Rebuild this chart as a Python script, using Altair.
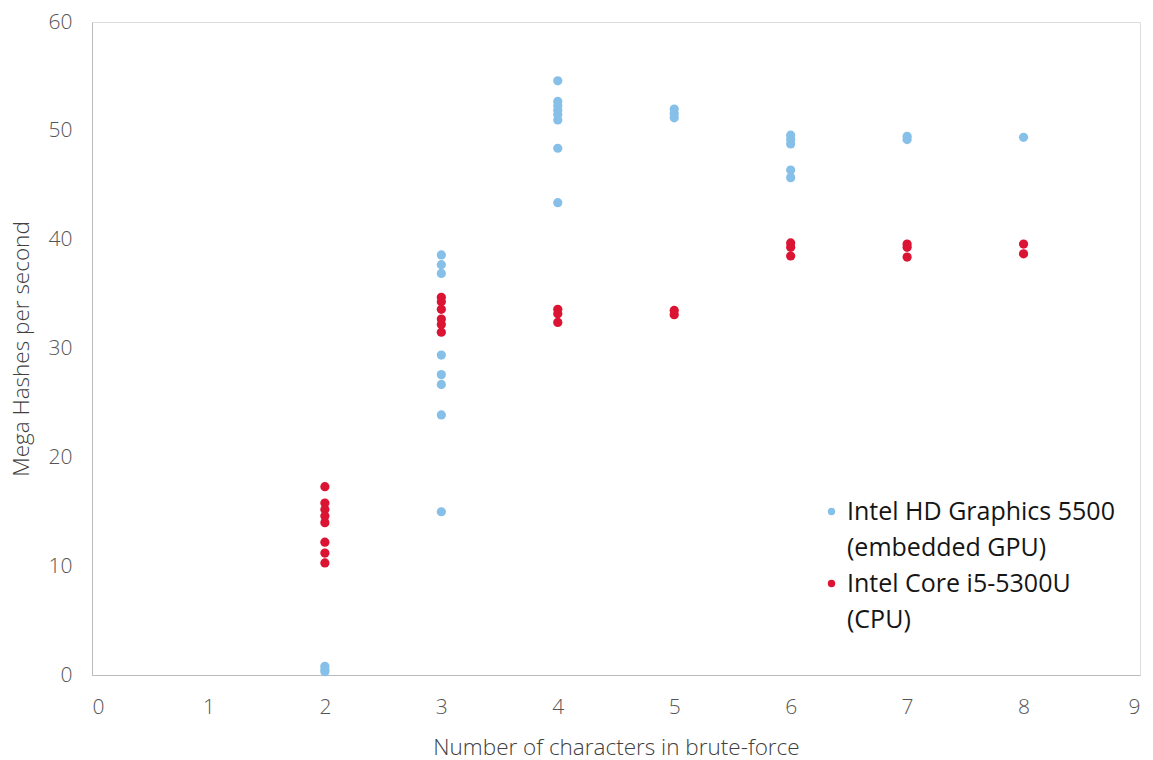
import altair as alt
import pandas as pd

gpu_x = [2, 2, 2, 3, 3, 3, 3, 3, 3, 3, 3, 4, 4, 4, 4, 4, 4, 4, 4, 5, 5, 5, 6, 6, 6, 6, 6, 7, 7, 8]
gpu_y = [0.3, 0.5, 0.8, 38.6, 37.7, 36.9, 29.4, 27.6, 26.7, 23.9, 15.0,
         54.6, 52.7, 52.3, 51.9, 51.5, 51.0, 48.4, 43.4,
         52.0, 51.6, 51.2, 49.6, 49.2, 48.8, 46.4, 45.7, 49.5, 49.2, 49.4]
cpu_x = [2, 2, 2, 2, 2, 2, 2, 2, 3, 3, 3, 3, 3, 3, 4, 4, 4, 5, 5, 6, 6, 6, 7, 7, 7, 8, 8]
cpu_y = [17.3, 15.8, 15.2, 14.6, 14.0, 12.2, 11.2, 10.3,
         34.7, 34.3, 33.6, 32.7, 32.2, 31.5,
         33.6, 33.2, 32.4, 33.5, 33.1,
         39.7, 39.3, 38.5, 39.6, 39.3, 38.4, 39.6, 38.7]

series_names = ["Intel HD Graphics 5500|(embedded GPU)", "Intel Core i5-5300U|(CPU)"]
series_colors = ["#86C0E8", "#DC1433"]

df = pd.concat([
    pd.DataFrame({"x": gpu_x, "y": gpu_y, "series": series_names[0], "ord": 0}),
    pd.DataFrame({"x": cpu_x, "y": cpu_y, "series": series_names[1], "ord": 1}),
], ignore_index=True)

axis_font = "Open Sans"
tick_text = "#555555"
title_text = "#404040"

chart = alt.Chart(df).mark_circle(size=85, opacity=1).encode(
    x=alt.X("x:Q", scale=alt.Scale(domain=[0, 9], nice=False),
            axis=alt.Axis(values=list(range(10)), title="Number of characters in brute-force",
                          grid=False, ticks=False, domainColor="#BBBBBB", domainWidth=1,
                          labelFontSize=21, labelColor=tick_text, labelFont=axis_font,
                          labelFontWeight=300,
                          labelPadding=21, titleFontSize=22.5, titleFont=axis_font,
                          titleFontWeight=300, titleColor=title_text, titlePadding=19)),
    y=alt.Y("y:Q", scale=alt.Scale(domain=[0, 60], nice=False),
            axis=alt.Axis(values=list(range(0, 61, 10)), title="Mega Hashes per second",
                          grid=False, ticks=False, domainColor="#BBBBBB", domainWidth=1,
                          labelFontSize=21, labelColor=tick_text, labelFont=axis_font,
                          labelFontWeight=300,
                          labelPadding=20, titleFontSize=22.5, titleFont=axis_font,
                          titleFontWeight=300, titleColor=title_text, titlePadding=15)),
    color=alt.Color("series:N",
                    scale=alt.Scale(domain=series_names, range=series_colors),
                    legend=alt.Legend(title=None, orient="none", legendX=727, legendY=477,
                                      labelExpr="split(datum.label, '|')",
                                      labelFontSize=25, labelFont=axis_font, labelColor="#151515",
                                      symbolType="circle", symbolSize=55, symbolStrokeWidth=0,
                                      symbolOpacity=1, labelLimit=500, rowPadding=10,
                                      labelBaseline="middle", labelOffset=3)),
    order=alt.Order("ord:Q"),
).properties(
    width=1048, height=653,
    padding={"left": 92, "top": 22, "right": 13, "bottom": 85},
    autosize=alt.AutoSizeParams(type="none"),
).configure_view(stroke=None).configure(
    background="white",
    style={"guide-label": {"lineHeight": 36}},
)

chart.save("out.html", embed_options={"renderer": "svg", "actions": False})
